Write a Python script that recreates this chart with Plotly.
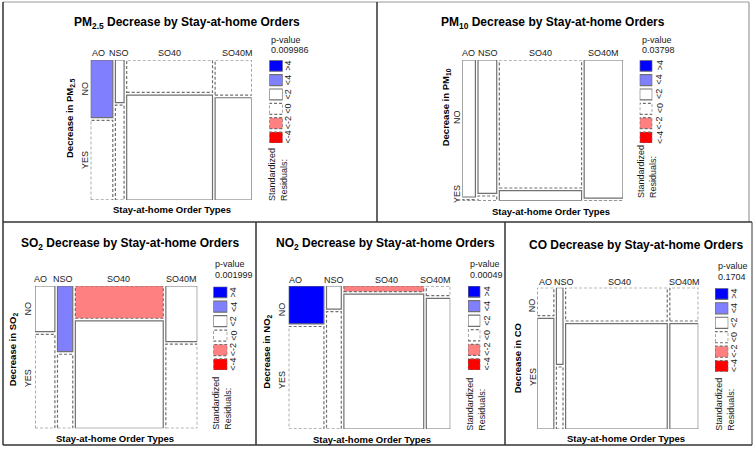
import plotly.graph_objects as go

W, H = 756, 460

# ---------------- data ----------------
columns = ["AO", "NSO", "SO40", "SO40M"]
rows = ["NO", "YES"]

# share of stations in each order type (column widths)
pm25_col_share = [0.145, 0.057, 0.563, 0.240]
# share of "NO" (no decrease) inside each order type
pm25_no_share = [0.420, 0.310, 0.236, 0.256]
pm25_resid_no = [3.0, 0.5, -1.0, -0.5]
pm25_resid_yes = [-1.5, -0.3, 0.6, 0.3]
pm25_pvalue = "0.009986"

pm10_col_share = [0.086, 0.123, 0.540, 0.255]
pm10_no_share = [0.992, 0.966, 0.927, 1.000]
pm10_resid_no = [0.2, 0.3, -0.4, 0.4]
pm10_resid_yes = [-0.8, -0.5, 1.5, -1.5]
pm10_pvalue = "0.03798"

so2_col_share = [0.129, 0.099, 0.570, 0.204]
so2_no_share = [0.327, 0.470, 0.231, 0.398]
so2_resid_no = [1.0, 2.5, -2.2, 0.9]
so2_resid_yes = [-0.6, -1.4, 1.3, -0.6]
so2_pvalue = "0.001999"

no2_col_share = [0.229, 0.096, 0.519, 0.156]
no2_no_share = [0.270, 0.164, 0.040, 0.069]
no2_resid_no = [4.5, 0.5, -2.7, -1.0]
no2_resid_yes = [-1.9, -0.2, 1.1, 0.4]
no2_pvalue = "0.00049"

co_col_share = [0.108, 0.043, 0.664, 0.186]
co_no_share = [0.202, 0.553, 0.240, 0.240]
co_resid_no = [-0.3, 1.9, -0.2, -0.1]
co_resid_yes = [0.2, -1.1, 0.1, 0.05]
co_pvalue = "0.1704"

legend_labels = [">4", "<4", "<2", "<0", "<-2", "<-4"]
legend_levels = [5, 3, 1, -1, -3, -5]

# ---------------- styling helpers ----------------
SANS = "Liberation Sans, Arial, sans-serif"
TXT = "#1a1a1a"
EDGE = "#707070"
SMALL = 9
AXT = 9.5


def px(x):
    return x / W


def py(y):
    return 1 - y / H


def shade(r):
    if r > 4:
        return "#0000FF", "solid"
    if r > 2:
        return "#8080FF", "solid"
    if r >= 0:
        return "#FFFFFF", "solid"
    if r > -2:
        return "#FFFFFF", "3px,2px"
    if r > -4:
        return "#FF8080", "3px,2px"
    return "#FF0000", "3px,2px"


panels = [
    dict(title="PM<sub>2.5</sub> Decrease by Stay-at-home Orders", ytitle="Decrease in PM<sub>2.5</sub>",
         share=pm25_col_share, no=pm25_no_share, rno=pm25_resid_no, ryes=pm25_resid_yes, pv=pm25_pvalue,
         mosaic=(90.7, 251.7, 60, 200), legend=(269.3, 282.7, 60.3, 143),
         title_xy=(187, 23), col_x=[98, 119, 169, 237], col_y=53,
         pv_x=269.3, pv_y=(40, 50.5), leg_lab_x=288, std_x=277.5, std_bottom=203,
         xt=(172, 209.5), yt=(70, 118), rl_x=85, rl_y=(88.5, 160)),
    dict(title="PM<sub>10</sub> Decrease by Stay-at-home Orders", ytitle="Decrease in PM<sub>10</sub>",
         share=pm10_col_share, no=pm10_no_share, rno=pm10_resid_no, ryes=pm10_resid_yes, pv=pm10_pvalue,
         mosaic=(462.3, 623, 60, 200.7), legend=(639.7, 652.3, 60.3, 143),
         title_xy=(553, 23), col_x=[468, 488, 540.7, 603], col_y=53,
         pv_x=639.7, pv_y=(40, 50.5), leg_lab_x=659.5, std_x=647.5, std_bottom=200,
         xt=(551, 211), yt=(446.3, 107), rl_x=457, rl_y=(117, 194)),
    dict(title="SO<sub>2</sub> Decrease by Stay-at-home Orders", ytitle="Decrease in SO<sub>2</sub>",
         share=so2_col_share, no=so2_no_share, rno=so2_resid_no, ryes=so2_resid_yes, pv=so2_pvalue,
         mosaic=(35, 197.3, 286, 428.3), legend=(213.3, 227.3, 286.7, 370),
         title_xy=(130, 244), col_x=[40, 63.3, 118.3, 181.7], col_y=279,
         pv_x=213, pv_y=(264.3, 275), leg_lab_x=233.3, std_x=222.5, std_bottom=431.7,
         xt=(115, 438.3), yt=(13.3, 349), rl_x=28.3, rl_y=(308.3, 378)),
    dict(title="NO<sub>2</sub> Decrease by Stay-at-home Orders", ytitle="Decrease in NO<sub>2</sub>",
         share=no2_col_share, no=no2_no_share, rno=no2_resid_no, ryes=no2_resid_yes, pv=no2_pvalue,
         mosaic=(288.7, 450.3, 286, 429), legend=(468, 480.3, 286, 370),
         title_xy=(385.3, 244), col_x=[295.3, 333.7, 387, 435.3], col_y=280,
         pv_x=468, pv_y=(264.3, 275), leg_lab_x=487, std_x=476, std_bottom=433.3,
         xt=(372, 439.3), yt=(267, 351.7), rl_x=282, rl_y=(309.3, 380)),
    dict(title="CO Decrease by Stay-at-home Orders", ytitle="Decrease in CO",
         share=co_col_share, no=co_no_share, rno=co_resid_no, ryes=co_resid_yes, pv=co_pvalue,
         mosaic=(537.3, 698.3, 287.7, 429), legend=(715, 728.3, 288.3, 371.7),
         title_xy=(635.7, 245), col_x=[545.7, 564, 619, 684], col_y=281.7,
         pv_x=716, pv_y=(265.7, 277.3), leg_lab_x=734, std_x=725, std_bottom=433.3,
         xt=(625.7, 438.3), yt=(517.3, 358), rl_x=532.3, rl_y=(305, 376.7)),
]

fig = go.Figure()
layout = dict(width=W, height=H, margin=dict(l=0, r=0, t=0, b=0),
              paper_bgcolor="white", plot_bgcolor="rgba(0,0,0,0)", showlegend=False)
shapes = []
annotations = []

GAP_PX = 2.6
BOX_FRAC = 0.765

for i, p in enumerate(panels):
    ma = 2 * i + 1
    la = 2 * i + 2
    x0, x1, y0, y1 = p["mosaic"]
    lx0, lx1, ly0, ly1 = p["legend"]
    for ax, dom_x, dom_y, yr in [
        (ma, (px(x0), px(x1)), (py(y1), py(y0)), [0, 1]),
        (la, (px(lx0), px(lx1)), (py(ly1), py(ly0)), [0, 5 + BOX_FRAC]),
    ]:
        layout[f"xaxis{ax}"] = dict(domain=list(dom_x), range=[0, 1], visible=False, fixedrange=True,
                                    anchor=f"y{ax}")
        layout[f"yaxis{ax}"] = dict(domain=list(dom_y), range=yr, visible=False, fixedrange=True,
                                    anchor=f"x{ax}")
        fig.add_trace(go.Scatter(x=[None], y=[None], xaxis=f"x{ax}", yaxis=f"y{ax}",
                                 mode="markers", hoverinfo="skip"))

    xr = "x" if ma == 1 else f"x{ma}"
    yr_ = "y" if ma == 1 else f"y{ma}"
    gx = GAP_PX / (x1 - x0)
    gy = GAP_PX / (y1 - y0)
    total = sum(p["share"])
    avail = 1 - (len(columns) - 1) * gx
    cur = 0.0
    for j, col in enumerate(columns):
        w = p["share"][j] / total * avail
        hno = p["no"][j] * (1 - gy)
        hyes = (1 - p["no"][j]) * (1 - gy)
        for (cy0, cy1, r) in [(1 - hno, 1, p["rno"][j]), (0, hyes, p["ryes"][j])]:
            fill, dash = shade(r)
            shapes.append(dict(type="rect", xref=xr, yref=yr_, x0=cur, x1=cur + w, y0=cy0, y1=cy1,
                               fillcolor=fill, line=dict(color=EDGE, width=1.2, dash=dash),
                               layer="above"))
        cur += w + gx

    # legend boxes
    lxr = f"x{la}"
    lyr = f"y{la}"
    for k, lev in enumerate(legend_levels):
        fill, dash = shade(lev)
        b0 = 5 - k
        shapes.append(dict(type="rect", xref=lxr, yref=lyr, x0=0, x1=1, y0=b0, y1=b0 + BOX_FRAC,
                           fillcolor=fill, line=dict(color=EDGE, width=1.2, dash=dash), layer="above"))
        annotations.append(dict(x=px(p["leg_lab_x"]), xref="paper", y=b0 + BOX_FRAC / 2, yref=lyr,
                                text=legend_labels[k], textangle=-90, showarrow=False,
                                xanchor="center", yanchor="middle",
                                font=dict(family=SANS, size=SMALL, color=TXT)))

    # texts
    tx, ty = p["title_xy"]
    annotations.append(dict(x=px(tx), y=py(ty), xref="paper", yref="paper", text="<b>" + p["title"] + "</b>",
                            showarrow=False, xanchor="center", yanchor="middle",
                            font=dict(family=SANS, size=12, color="#000")))
    for j, col in enumerate(columns):
        annotations.append(dict(x=px(p["col_x"][j]), y=py(p["col_y"]), xref="paper", yref="paper",
                                text=col, showarrow=False, xanchor="center", yanchor="middle",
                                font=dict(family=SANS, size=SMALL, color=TXT)))
    for rlab, ry in zip(rows, p["rl_y"]):
        annotations.append(dict(x=px(p["rl_x"]), y=py(ry), xref="paper", yref="paper", text=rlab,
                                textangle=-90, showarrow=False, xanchor="center", yanchor="middle",
                                font=dict(family=SANS, size=SMALL, color=TXT)))
    annotations.append(dict(x=px(p["xt"][0]), y=py(p["xt"][1]), xref="paper", yref="paper",
                            text="<b>Stay-at-home Order Types</b>", showarrow=False,
                            xanchor="center", yanchor="middle",
                            font=dict(family=SANS, size=AXT, color="#000")))
    annotations.append(dict(x=px(p["yt"][0]), y=py(p["yt"][1]), xref="paper", yref="paper",
                            text="<b>" + p["ytitle"] + "</b>", textangle=-90, showarrow=False,
                            xanchor="center", yanchor="middle",
                            font=dict(family=SANS, size=AXT, color="#000")))
    annotations.append(dict(x=px(p["pv_x"]), y=py(p["pv_y"][0]), xref="paper", yref="paper",
                            text="p-value", showarrow=False, xanchor="left", yanchor="middle",
                            font=dict(family=SANS, size=SMALL, color=TXT)))
    annotations.append(dict(x=px(p["pv_x"]), y=py(p["pv_y"][1]), xref="paper", yref="paper",
                            text=p["pv"], showarrow=False, xanchor="left", yanchor="middle",
                            font=dict(family=SANS, size=SMALL, color=TXT)))
    annotations.append(dict(x=px(p["std_x"]), y=py(p["std_bottom"]), xref="paper", yref="paper",
                            text="Standardized<br>Residuals:", textangle=-90, align="left",
                            showarrow=False, xanchor="center", yanchor="bottom",
                            font=dict(family=SANS, size=SMALL, color=TXT)))

# panel frames (decoration)
def seg(xa, ya, xb, yb, color="#333333", width=1.5):
    shapes.append(dict(type="line", xref="paper", yref="paper", x0=px(xa), y0=py(ya), x1=px(xb), y1=py(yb),
                       line=dict(color=color, width=width), layer="above"))

seg(3, 2, 749, 2, color="#9a9a9a", width=1.2)
seg(3, 2, 3, 445)
seg(749, 2, 749, 222, color="#9a9a9a", width=1.2)
seg(377, 2, 377, 222)
seg(3, 222, 752, 222)
seg(256, 222, 256, 445)
seg(505, 222, 505, 445)
seg(752, 222, 752, 445, color="#555555", width=1.2)
seg(3, 445, 752, 445)

layout["shapes"] = shapes
layout["annotations"] = annotations
fig.update_layout(**layout)
fig.write_html("out.html", config={"displayModeBar": False},
               post_script="document.body.style.margin='0px';document.body.style.padding='0px';")
